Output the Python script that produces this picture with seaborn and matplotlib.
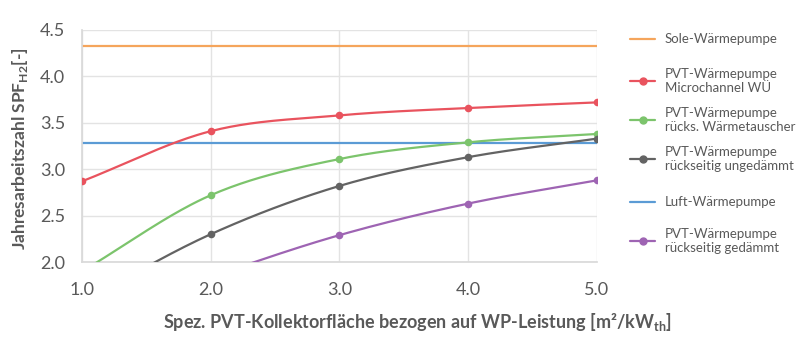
import numpy as np
import pandas as pd
import matplotlib
matplotlib.use("Agg")
import matplotlib.pyplot as plt
import seaborn as sns
from matplotlib.lines import Line2D

# spec. collector area [m²/kW_th]
flaeche = [1.0, 2.0, 3.0, 4.0, 5.0]

# SPF values (values below 2.0 are clipped in the original)
pvt_microchannel = [2.87, 3.41, 3.58, 3.66, 3.72]
pvt_ruecks_wt = [1.90, 2.72, 3.11, 3.29, 3.38]
pvt_ungedaemmt = [1.57, 2.30, 2.82, 3.13, 3.33]
pvt_gedaemmt = [1.35, 1.84, 2.29, 2.63, 2.88]
sole_wp = 4.33
luft_wp = 3.28

labels = ["Sole-Wärmepumpe",
          "PVT-Wärmepumpe\nMicrochannel WÜ",
          "PVT-Wärmepumpe\nrücks. Wärmetauscher",
          "PVT-Wärmepumpe\nrückseitig ungedämmt",
          "Luft-Wärmepumpe",
          "PVT-Wärmepumpe\nrückseitig gedämmt"]

c_orange = "#F5A55C"
c_red = "#E9535E"
c_green = "#7CC46C"
c_grey = "#636363"
c_blue = "#5B9BD5"
c_purple = "#9E64B3"
txt = "#595959"

sns.set_theme(style="white")
plt.rcParams["font.family"] = ["Lato", "DejaVu Sans"]
plt.rcParams["mathtext.fontset"] = "custom"
plt.rcParams["mathtext.rm"] = "Lato"
plt.rcParams["mathtext.bf"] = "Lato:bold"


def smooth(x, y, n=40):
    # Catmull-Rom style smoothing like Excel's "smoothed line"
    x = np.asarray(x, float)
    y = np.asarray(y, float)
    px = np.concatenate([[2 * x[0] - x[1]], x, [2 * x[-1] - x[-2]]])
    py = np.concatenate([[2 * y[0] - y[1]], y, [2 * y[-1] - y[-2]]])
    xs, ys = [], []
    t = np.linspace(0, 1, n)
    for i in range(1, len(px) - 2):
        for p, out in ((px, xs), (py, ys)):
            p0, p1, p2, p3 = p[i - 1], p[i], p[i + 1], p[i + 2]
            out.append(0.5 * ((2 * p1) + (-p0 + p2) * t
                              + (2 * p0 - 5 * p1 + 4 * p2 - p3) * t ** 2
                              + (-p0 + 3 * p1 - 3 * p2 + p3) * t ** 3))
    return np.concatenate(xs), np.concatenate(ys)


fig = plt.figure(figsize=(8, 3.64), dpi=100)
ax = fig.add_axes([0.1025, 0.28, 0.6435, 0.6376])

ax.axhline(sole_wp, color=c_orange, lw=1.6, zorder=2)
ax.axhline(luft_wp, color=c_blue, lw=1.6, zorder=2)

series = [(pvt_microchannel, c_red), (pvt_ruecks_wt, c_green),
          (pvt_ungedaemmt, c_grey), (pvt_gedaemmt, c_purple)]
for vals, col in series:
    sx, sy = smooth(flaeche, vals)
    ax.plot(sx, sy, color=col, lw=1.6, zorder=3)
    df = pd.DataFrame({"x": flaeche, "y": vals})
    sns.scatterplot(data=df, x="x", y="y", color=col, s=30, edgecolor=col,
                    linewidth=0, ax=ax, zorder=4, clip_on=True)

ax.set_xlim(1.0, 5.0)
ax.set_ylim(2.0, 4.5)
ax.set_xticks(flaeche)
ax.set_yticks([2.0, 2.5, 3.0, 3.5, 4.0, 4.5])
ax.xaxis.set_major_formatter(matplotlib.ticker.FormatStrFormatter("%.1f"))
ax.yaxis.set_major_formatter(matplotlib.ticker.FormatStrFormatter("%.1f"))
ax.grid(True, color="#E3E3E3", lw=1.0)
ax.set_axisbelow(True)
for s in ["top", "right"]:
    ax.spines[s].set_visible(False)
for s in ["left", "bottom"]:
    ax.spines[s].set_color("#D9D9D9")
ax.tick_params(axis="both", length=0, labelsize=13, colors=txt)
ax.tick_params(axis="x", pad=14)
ax.tick_params(axis="y", pad=12)

ax.set_xlabel(r"Spez. PVT-Kollektorfläche bezogen auf WP-Leistung [m²/kW$_\mathbf{th}$]",
              fontsize=13, fontweight="bold", color=txt)
ax.xaxis.set_label_coords((418 - 82) / 515, -(322 - 262) / 232, transform=ax.transAxes)
ax.xaxis.label.set_va("center")
ax.set_ylabel(r"Jahresarbeitszahl SPF$_\mathbf{H2}$[-]",
              fontsize=12.5, fontweight="bold", color=txt)
ax.yaxis.set_label_coords(-(82 - 20) / 515, 0.49, transform=ax.transAxes)
ax.yaxis.label.set_va("center")

# legend on the right
leg_cols = [c_orange, c_red, c_green, c_grey, c_blue, c_purple]
leg_marker = [False, True, True, True, False, True]
leg_y = [39, 81, 120, 159, 202, 241]
for lab, col, mk, ypx in zip(labels, leg_cols, leg_marker, leg_y):
    yf = 1 - ypx / 364
    fig.add_artist(Line2D([630 / 800, 655 / 800], [yf, yf], color=col, lw=1.6,
                          transform=fig.transFigure))
    if mk:
        fig.add_artist(Line2D([642.5 / 800], [yf], marker="o", ms=5, color=col,
                              transform=fig.transFigure))
    fig.text(665 / 800, yf, lab, fontsize=9.5, color=txt, va="center", ha="left",
             linespacing=1.2)

fig.savefig("out.png", dpi=100)
